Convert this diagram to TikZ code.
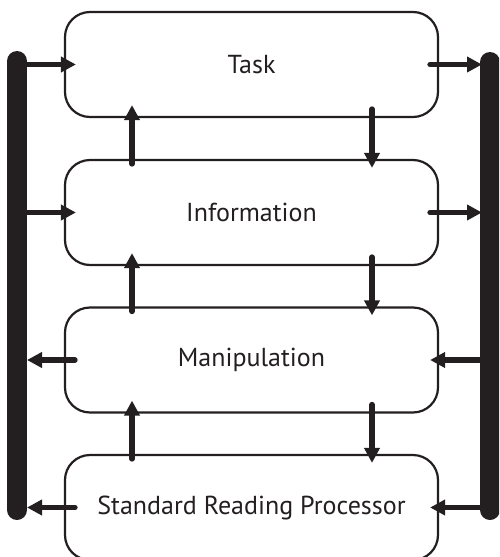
\documentclass[tikz,border=0pt]{standalone}
\usepackage{fontspec}
\setmainfont{PT Sans}
\usetikzlibrary{arrows.meta,calc}
\definecolor{ink}{HTML}{231F20}
\tikzset{
  box/.style={draw=ink, line width=2.2pt, rounded corners=25pt, minimum width=373pt, minimum height=105pt, inner sep=0pt, text=ink, font=\fontsize{26}{30}\selectfont},
  arr/.style={draw=ink, line width=5.5pt, line cap=round, -{Triangle[length=15pt,width=15pt]}},
  bar/.style={draw=ink, line width=20pt, line cap=round}
}
\begin{document}
\begin{tikzpicture}[x=1pt,y=-1pt]
\useasboundingbox (0,0) rectangle (499,557);
\clip (0,0) rectangle (499,557);
\node[box] (t) at (251.5,64.5) {Task};
\node[box] (i) at (251.5,212.5) {Information};
\node[box] (m) at (251.5,360) {Manipulation};
\node[box] (s) at (251.5,507.5) {Standard Reading Processor};
% bars
\coordinate (lt) at (17,61);
\coordinate (lb) at (17,510);
\coordinate (rt) at (490,62);
\coordinate (rb) at (490,510);
\draw[bar] (lt) -- (lb);
\draw[bar] (rt) -- (rb);
% horizontal connectors
\foreach \n in {t,i} {
  \draw[arr] (lt |- \n.west) -- ([xshift=12pt]\n.west);
  \draw[arr] ([xshift=-9pt]\n.east) -- ([xshift=-8pt]rt |- \n.east);
}
\foreach \n in {m,s} {
  \draw[arr] ([xshift=11pt]\n.west) -- ([xshift=10pt]lt |- \n.west);
  \draw[arr] ([xshift=-8pt]rt |- \n.east) -- ([xshift=-9pt]\n.east);
}
% vertical connectors
\foreach \a/\b in {t/i,i/m,m/s} {
  \draw[arr] ($(\b.north)+(-119.5,5)$) -- ($(\a.south)+(-119.5,-13)$);
  \draw[arr] ($(\a.south)+(120.5,-9)$) -- ($(\b.north)+(120.5,9)$);
}
\end{tikzpicture}
\end{document}
